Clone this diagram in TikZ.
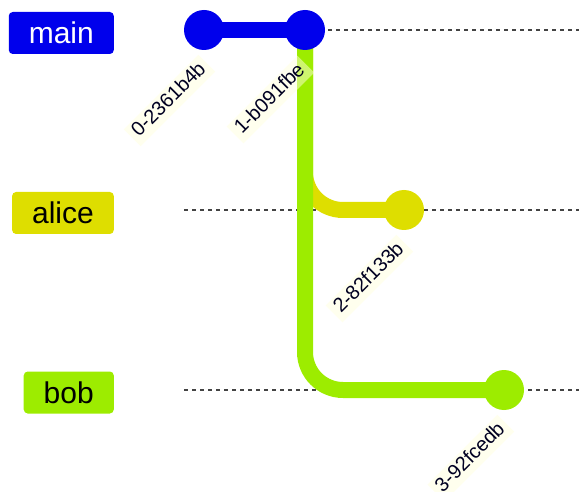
\documentclass[tikz,border=0pt]{standalone}
\usepackage{fontspec}
\setmainfont{Liberation Sans}
\usetikzlibrary{calc}
\definecolor{gitA}{RGB}{0,0,236}
\definecolor{gitB}{RGB}{222,222,0}
\definecolor{gitC}{RGB}{157,236,0}
\definecolor{lblbg}{HTML}{FFFFDE}
\definecolor{lbltxt}{HTML}{000021}
\definecolor{lanecol}{HTML}{444444}
\tikzset{
  branchlbl/.style={rounded corners=4pt, minimum height=42pt, inner xsep=20pt, inner ysep=0pt,
    font=\fontsize{30}{32}\selectfont, text height=27pt, text depth=6pt, anchor=east},
  lane/.style={draw=lanecol, line width=2pt, dash pattern=on 4pt off 4pt},
  branchline/.style={line width=16pt},
  commit/.style={circle, minimum size=40pt, inner sep=0pt},
  clabel/.style={fill=lblbg, fill opacity=0.5, text opacity=1, text=lbltxt, anchor=east, rotate=45,
    font=\fontsize{20}{22}\selectfont, minimum height=24pt, inner xsep=5pt, inner ysep=0pt,
    text height=14.5pt, text depth=4.5pt}
}
\begin{document}
\begin{tikzpicture}[x=1pt,y=-1pt]
\useasboundingbox (0,0) rectangle (579,492);
% lanes
\coordinate (ls0) at (184,30);  \coordinate (le0) at (579,30);
\coordinate (ls1) at (184,210); \coordinate (le1) at (579,210);
\coordinate (ls2) at (184,390); \coordinate (le2) at (579,390);
\draw[lane] (ls0) -- (le0);
\draw[lane] (ls1) -- (le1);
\draw[lane] (ls2) -- (le2);
% branch labels
\node[branchlbl, fill=gitA, text=white] (bmain) at (114,33) {main};
\node[branchlbl, fill=gitB, text=black] (balice) at (114,213) {alice};
\node[branchlbl, fill=gitC, text=black] (bbob) at (114,392.5) {bob};
% commit positions
\coordinate (p0) at (204,30);
\coordinate (p1) at (305,30);
\coordinate (p2) at (404,210);
\coordinate (p3) at (504,390);
% branch lines
\draw[branchline, gitA] (p0) -- (p1);
\draw[branchline, gitB, rounded corners=38pt] (p1) |- (p2);
\draw[branchline, gitC, rounded corners=38pt] (p1) |- (p3);
% commits
\node[commit, fill=gitA] (c0) at (p0) {};
\node[commit, fill=gitA] (c1) at (p1) {};
\node[commit, fill=gitB] (c2) at (p2) {};
\node[commit, fill=gitC] (c3) at (p3) {};
% commit labels
\node[clabel] (l0) at ($(c0.center)+(3,33)$) {0-2361b4b};
\node[clabel] (l1) at ($(c1.center)+(1,34)$) {1-b091fbe};
\node[clabel] (l2) at ($(c2.center)+(1,33)$) {2-82f133b};
\node[clabel] (l3) at ($(c3.center)+(2,33)$) {3-92fcedb};
\end{tikzpicture}
\end{document}
